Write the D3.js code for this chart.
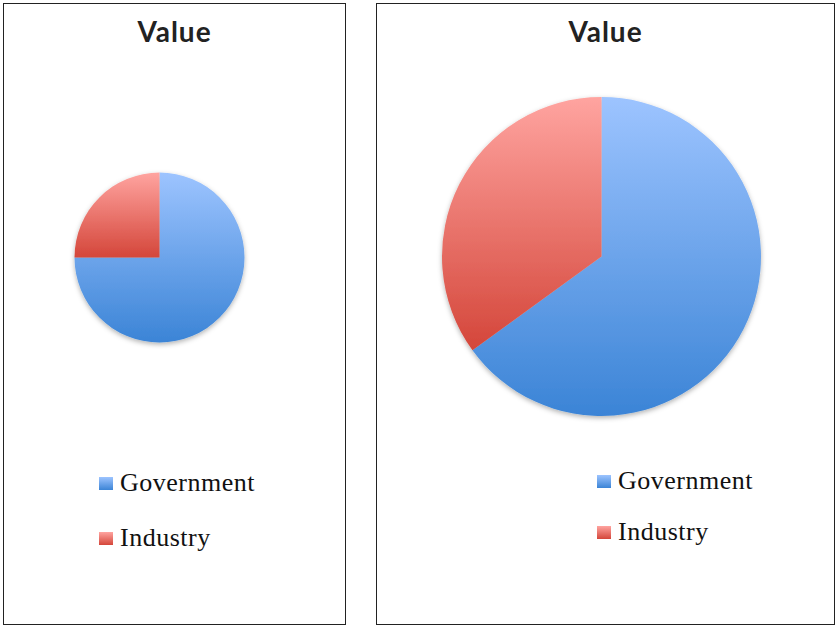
<!DOCTYPE html>
<html>
<head>
<meta charset="utf-8">
<script src="https://cdn.jsdelivr.net/npm/d3@7/dist/d3.min.js"></script>
<style>
  html, body { margin: 0; padding: 0; background: #fff; }
  svg { display: block; }
</style>
</head>
<body>
<div id="chart"></div>
<script>
// Data
const categories = ['Government', 'Industry'];
const leftValues = [75, 25];
const rightValues = [65, 35];
const titles = ['Value', 'Value'];

const gradStops = {
    Government: ['#9dc4ff', '#3b84d6'],
    Industry: ['#ffa4a0', '#d4463a']
};

const width = 837, height = 626;

const svg = d3.select('#chart')
    .append('svg')
    .attr('width', width)
    .attr('height', height);

const defs = svg.append('defs');

// vertical gradients per slice (objectBoundingBox)
categories.forEach((c, i) => {
    const lg = defs.append('linearGradient')
        .attr('id', 'grad' + i)
        .attr('x1', 0).attr('y1', 0).attr('x2', 0).attr('y2', 1);
    lg.append('stop').attr('offset', '0%').attr('stop-color', gradStops[c][0]);
    lg.append('stop').attr('offset', '100%').attr('stop-color', gradStops[c][1]);
});

// soft shadow under the pie
const f = defs.append('filter').attr('id', 'shadow')
    .attr('x', '-20%').attr('y', '-20%').attr('width', '140%').attr('height', '140%');
f.append('feDropShadow')
    .attr('dx', 0).attr('dy', 2)
    .attr('stdDeviation', 2.5)
    .attr('flood-color', '#000')
    .attr('flood-opacity', 0.3);

const color = d3.scaleOrdinal().domain(categories).range(categories.map((c, i) => `url(#grad${i})`));

function renderPie(cfg) {
    const g = svg.append('g');

    // panel frame
    g.append('rect')
        .attr('x', cfg.x + 0.5).attr('y', cfg.y + 0.5)
        .attr('width', cfg.w).attr('height', cfg.h)
        .attr('fill', '#fff')
        .attr('stroke', '#222')
        .attr('stroke-width', 1);

    g.append('text')
        .attr('x', cfg.x + cfg.w / 2 + 0.5)
        .attr('y', 42)
        .attr('text-anchor', 'middle')
        .attr('font-family', 'Lato, "Open Sans", sans-serif')
        .attr('font-weight', 'bold')
        .attr('font-size', '28px')
        .attr('fill', '#222')
        .style('letter-spacing', '1px')
        .text(cfg.title);

    const pie = d3.pie().sort(null).value(d => d.value);
    const arc = d3.arc().innerRadius(0).outerRadius(cfg.r);
    const data = categories.map((c, i) => ({ label: c, value: cfg.values[i] }));

    g.append('g')
        .attr('transform', `translate(${cfg.cx},${cfg.cy})`)
        .attr('filter', 'url(#shadow)')
        .selectAll('path')
        .data(pie(data))
        .enter()
        .append('path')
        .attr('d', arc)
        .attr('fill', d => color(d.data.label));

    // Legend
    const leg = g.append('g')
        .selectAll('g')
        .data(categories)
        .enter()
        .append('g')
        .attr('transform', (d, i) => `translate(${cfg.legX},${cfg.legY + i * cfg.legStep})`);

    leg.append('rect')
        .attr('x', 0).attr('y', -14)
        .attr('width', 14).attr('height', 13)
        .attr('fill', d => color(d));

    leg.append('text')
        .attr('x', 21).attr('y', 0)
        .attr('font-family', '"Liberation Serif", "DejaVu Serif", serif')
        .attr('font-size', '26px')
        .attr('fill', '#111')
        .style('letter-spacing', '0.5px')
        .text(d => d);
}

renderPie({ x: 3, y: 3, w: 342, h: 621, cx: 159.5, cy: 257.5, r: 85,
    values: leftValues, title: titles[0], legX: 99, legY: 491, legStep: 55 });
renderPie({ x: 376, y: 3, w: 458, h: 621, cx: 601.5, cy: 256.5, r: 159.5,
    values: rightValues, title: titles[1], legX: 597, legY: 489, legStep: 51 });
</script>
</body>
</html>
